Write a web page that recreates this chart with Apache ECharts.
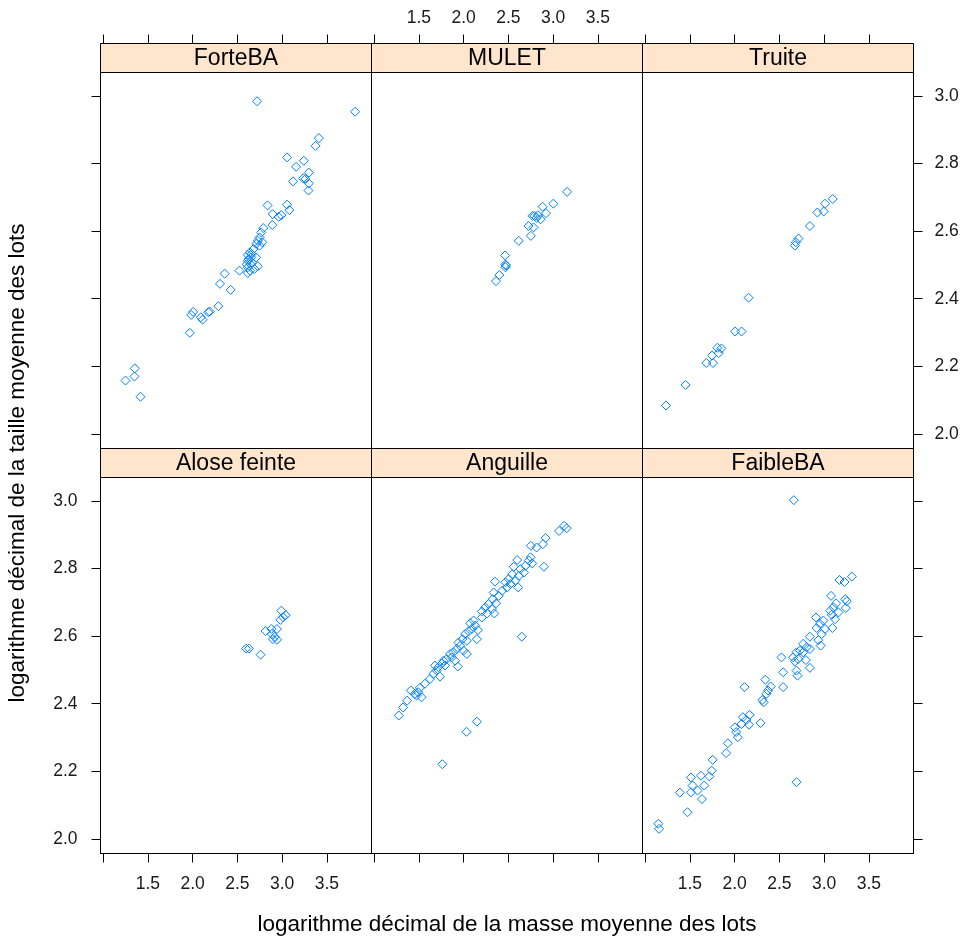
<!DOCTYPE html>
<html><head><meta charset="utf-8">
<script src="https://cdn.jsdelivr.net/npm/echarts@6/dist/echarts.min.js"></script>
<style>html,body{margin:0;padding:0;background:#fff}#c{width:967px;height:941px}</style>
</head><body><div id="c"></div>
<script>
// ---- data ----
const panelNames = ['ForteBA', 'MULET', 'Truite', 'Alose feinte', 'Anguille', 'FaibleBA'];
const xTicks = [1.0, 1.5, 2.0, 2.5, 3.0, 3.5, 4.0];
const xTickLabels = [1.5, 2.0, 2.5, 3.0, 3.5];
const yTicks = [2.0, 2.2, 2.4, 2.6, 2.8, 3.0];
const xTitle = 'logarithme décimal de la masse moyenne des lots';
const yTitle = 'logarithme décimal de la taille moyenne des lots';

const forteBA = [[2.72,2.984],[3.815,2.953],[3.41,2.875],[3.373,2.852],[3.055,2.818],[3.242,2.808],[3.156,2.79],[3.298,2.773],[3.234,2.756],[3.26,2.754],[3.122,2.747],[3.298,2.741],[3.294,2.72],[2.837,2.676],[3.055,2.678],[3.081,2.662],[2.894,2.65],[2.991,2.647],[2.961,2.642],[2.89,2.618],[2.789,2.609],[2.766,2.596],[2.748,2.581],[2.729,2.571],[2.777,2.567],[2.71,2.562],[2.748,2.557],[2.639,2.537],[2.617,2.529],[2.654,2.522],[2.71,2.522],[2.617,2.512],[2.646,2.502],[2.617,2.493],[2.729,2.496],[2.523,2.483],[2.643,2.483],[2.617,2.476],[2.66,2.532],[2.68,2.547],[2.625,2.517],[2.66,2.507],[2.605,2.502],[2.69,2.488],[2.358,2.474],[2.306,2.444],[2.425,2.426],[2.287,2.378],[2.19,2.362],[2.175,2.36],[2.006,2.361],[1.984,2.352],[2.092,2.345],[2.111,2.338],[1.969,2.299],[1.354,2.194],[1.351,2.17],[1.25,2.158],[1.418,2.11]];
const mulet = [[3.156,2.716],[3.002,2.681],[2.882,2.672],[2.792,2.645],[2.815,2.639],[2.92,2.653],[2.86,2.635],[2.77,2.645],[2.83,2.647],[2.725,2.615],[2.781,2.611],[2.751,2.586],[2.616,2.571],[2.463,2.528],[2.467,2.501],[2.467,2.493],[2.474,2.498],[2.399,2.47],[2.362,2.452]];
const truite = [[3.096,2.695],[3.01,2.681],[2.924,2.655],[2.995,2.658],[2.841,2.615],[2.714,2.578],[2.684,2.567],[2.673,2.557],[2.156,2.403],[2.006,2.303],[2.077,2.303],[1.807,2.255],[1.852,2.253],[1.822,2.239],[1.748,2.232],[1.684,2.21],[1.759,2.21],[1.452,2.145],[1.234,2.084]];
const aloseFeinte = [[2.991,2.675],[3.04,2.662],[2.98,2.648],[3.01,2.656],[2.815,2.615],[2.879,2.621],[2.942,2.621],[2.886,2.606],[2.916,2.598],[2.942,2.589],[2.897,2.591],[2.598,2.563],[2.628,2.563],[2.759,2.545]];
const anguille = [[3.152,2.919],[3.122,2.926],[3.066,2.911],[2.916,2.89],[2.886,2.872],[2.815,2.862],[2.751,2.867],[2.897,2.805],[2.748,2.833],[2.729,2.823],[2.766,2.815],[2.598,2.825],[2.691,2.808],[2.635,2.798],[2.56,2.805],[2.673,2.788],[2.617,2.778],[2.542,2.783],[2.504,2.769],[2.579,2.764],[2.523,2.754],[2.467,2.759],[2.609,2.744],[2.485,2.744],[2.35,2.761],[2.43,2.734],[2.392,2.719],[2.336,2.729],[2.324,2.709],[2.279,2.695],[2.362,2.697],[2.242,2.685],[2.204,2.673],[2.317,2.68],[2.343,2.667],[2.261,2.667],[2.204,2.655],[2.111,2.646],[2.073,2.638],[2.13,2.631],[2.092,2.621],[2.055,2.614],[2.16,2.618],[2.148,2.591],[2.017,2.606],[1.987,2.591],[2.036,2.586],[1.942,2.581],[1.961,2.571],[1.924,2.562],[1.999,2.557],[2.036,2.547],[1.886,2.552],[1.849,2.547],[1.867,2.537],[1.811,2.532],[1.905,2.527],[1.774,2.527],[1.755,2.518],[1.935,2.51],[1.792,2.513],[1.718,2.508],[1.68,2.513],[1.699,2.498],[1.661,2.488],[1.736,2.48],[1.624,2.473],[1.568,2.459],[1.512,2.447],[1.493,2.434],[1.53,2.419],[1.455,2.429],[1.41,2.439],[1.369,2.409],[1.324,2.389],[1.276,2.365],[1.474,2.424],[2.65,2.598],[2.148,2.347],[2.032,2.317],[1.762,2.221]];
const faibleBA = [[2.661,3.002],[3.309,2.776],[3.171,2.766],[3.227,2.76],[3.077,2.719],[3.235,2.709],[3.253,2.703],[3.133,2.697],[3.103,2.685],[3.242,2.683],[3.066,2.675],[3.16,2.67],[3.085,2.663],[2.909,2.655],[2.991,2.646],[3.122,2.65],[2.954,2.636],[2.916,2.624],[3.01,2.621],[3.092,2.624],[2.841,2.598],[2.972,2.606],[2.935,2.588],[2.961,2.572],[2.766,2.577],[2.804,2.567],[2.841,2.562],[2.729,2.557],[2.691,2.552],[2.766,2.552],[2.654,2.537],[2.71,2.532],[2.673,2.525],[2.796,2.529],[2.523,2.537],[2.691,2.498],[2.841,2.506],[2.702,2.483],[2.542,2.493],[2.542,2.449],[2.343,2.471],[2.373,2.439],[2.403,2.451],[2.354,2.429],[2.309,2.411],[2.324,2.404],[2.111,2.449],[2.167,2.367],[2.092,2.36],[2.13,2.352],[2.077,2.34],[2.16,2.338],[2.29,2.343],[2.002,2.33],[2.017,2.316],[2.036,2.301],[1.924,2.283],[1.905,2.254],[1.755,2.234],[1.744,2.202],[1.718,2.185],[1.624,2.187],[1.512,2.182],[1.661,2.158],[1.53,2.158],[1.586,2.143],[1.512,2.138],[1.388,2.137],[1.635,2.118],[1.474,2.079],[2.691,2.168],[1.148,2.045],[1.156,2.03]];
const panelData = [forteBA, mulet, truite, aloseFeinte, anguille, faibleBA];

// ---- layout ----
const X_MIN = 0.971, X_MAX = 3.998, Y_MIN = 1.957, Y_MAX = 3.069;
const colLeft = [100.5, 371.5, 642.5], colW = 271;
const rowTop = [72.5, 477.5], rowH = 376, stripH = 29;
const FONT = 'Liberation Sans, Arial, sans-serif';
const TXT = '#1a1a1a';

const grids = [], xAxes = [], yAxes = [], series = [], graphics = [];
panelNames.forEach((name, i) => {
  const r = Math.floor(i / 3), c = i % 3;
  grids.push({ left: colLeft[c], top: rowTop[r], width: colW, height: rowH,
    show: true, borderColor: '#000', borderWidth: 1, backgroundColor: 'transparent', containLabel: false });
  const xLab = r === 0 ? (c === 1) : (c !== 1);
  xAxes.push({ gridIndex: i, type: 'value', min: X_MIN, max: X_MAX,
    position: r === 0 ? 'top' : 'bottom', offset: r === 0 ? stripH : 0,
    axisLine: { show: true, onZero: false, lineStyle: { color: '#000', width: 1 } },
    axisTick: { show: true, inside: false, length: 9, customValues: xTicks, lineStyle: { color: '#000' } },
    axisLabel: { show: xLab, customValues: xTickLabels, formatter: v => v.toFixed(1),
      margin: r === 0 ? 16 : 22, fontSize: 17.5, color: TXT, fontFamily: FONT },
    splitLine: { show: false } });
  const yTickShow = c !== 1;
  const yLab = r === 0 ? (c === 2) : (c === 0);
  yAxes.push({ gridIndex: i, type: 'value', min: Y_MIN, max: Y_MAX,
    position: c === 2 ? 'right' : 'left',
    axisLine: { show: true, onZero: false, lineStyle: { color: '#000', width: 1 } },
    axisTick: { show: yTickShow, inside: false, length: 9, customValues: yTicks, lineStyle: { color: '#000' } },
    axisLabel: { show: yLab, customValues: yTicks, formatter: v => v.toFixed(1),
      margin: c === 2 ? 21 : 23, fontSize: 17.5, color: TXT, fontFamily: FONT },
    splitLine: { show: false } });
  series.push({ type: 'scatter', name: name, xAxisIndex: i, yAxisIndex: i, data: panelData[i],
    symbol: 'diamond', symbolSize: 9, silent: true,
    itemStyle: { color: 'rgba(0,0,0,0)', borderColor: '#0080ff', borderWidth: 1, opacity: 1 } });
  const sy = rowTop[r] - stripH;
  graphics.push({ type: 'rect', shape: { x: colLeft[c], y: sy, width: colW, height: stripH },
    style: { fill: '#FFE5CC', stroke: '#000', lineWidth: 1 }, z: 10 });
  graphics.push({ type: 'text', x: colLeft[c] + colW / 2, y: sy + stripH / 2 + 1, z: 11,
    style: { text: name, fontSize: 23, fontFamily: FONT, fill: '#000',
      align: 'center', verticalAlign: 'middle', textAlign: 'center', textVerticalAlign: 'middle' } });
});
graphics.push({ type: 'text', x: 507, y: 925, z: 11,
  style: { text: xTitle, fontSize: 22.5, fontFamily: FONT, fill: '#000',
    align: 'center', verticalAlign: 'middle', textAlign: 'center', textVerticalAlign: 'middle' } });
graphics.push({ type: 'text', x: 18, y: 463, rotation: Math.PI / 2, z: 11,
  style: { text: yTitle, fontSize: 22.5, fontFamily: FONT, fill: '#000',
    align: 'center', verticalAlign: 'middle', textAlign: 'center', textVerticalAlign: 'middle' } });

const chart = echarts.init(document.getElementById('c'), null, { renderer: 'canvas' });
chart.setOption({
  animation: false,
  backgroundColor: '#fff',
  grid: grids, xAxis: xAxes, yAxis: yAxes, series: series,
  graphic: { elements: graphics }
});
</script>
</body></html>
